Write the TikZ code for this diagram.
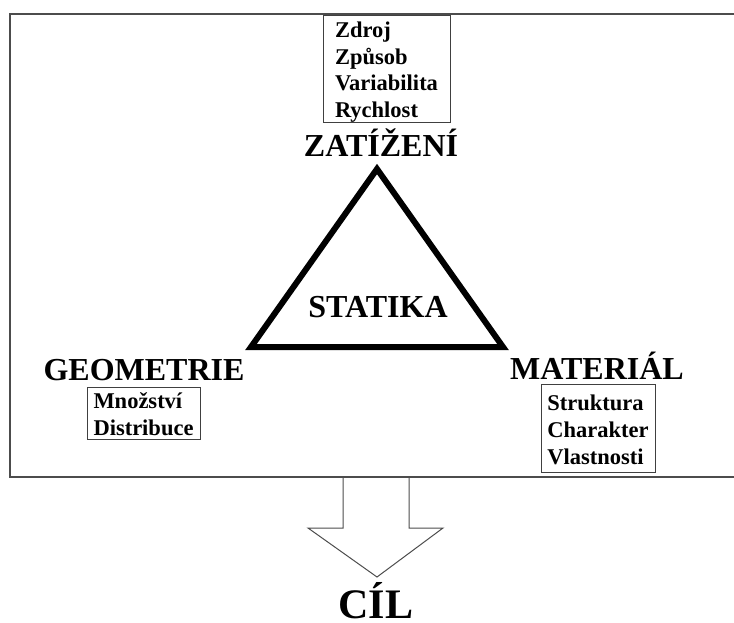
\documentclass[tikz,border=0pt]{standalone}
\usepackage{fontspec}
\setmainfont{Liberation Serif}
\usetikzlibrary{positioning}

\begin{document}
\begin{tikzpicture}[x=1pt,y=-1pt,
title/.style={font=\fontsize{32}{32}\selectfont\bfseries,inner sep=0pt,anchor=base},
listbox/.style={draw=black!75,line width=1pt,align=left,font=\fontsize{22.5}{26.7}\selectfont\bfseries,inner sep=0pt},
frame/.style={draw=black!70,line width=1.3pt},
arrow/.style={draw=black!70,line width=1pt,line join=miter}]
\useasboundingbox (0,0) rectangle (734,623);
\draw[frame] (734,14) -- (10,14) -- (10,477) -- (734,477);
% triangle
\draw[line width=6pt,line join=miter] (377,169) -- (503,347) -- (251,347) -- cycle;
\node[title] (statika) at (378,317) {STATIKA};
\node[title] (zatizeni) at (381,157) {ZATÍŽENÍ};
\node[title] (geometrie) at (144,380) {GEOMETRIE};
\node[title] (material) at (597,379) {MATERIÁL};
\node[listbox,minimum width=127pt,minimum height=107pt] (zdroj) at (386.5,69.5) {\rule{0pt}{21pt}Zdroj\\Způsob\\Variabilita\\Rychlost};
\node[listbox,minimum width=113pt,minimum height=52pt] (mnozstvi) at (143.5,413) {\rule{0pt}{18pt}Množství\\Distribuce};
\node[listbox,minimum width=114pt,minimum height=88pt] (struktura) at (598,428) {\rule{0pt}{19pt}Struktura\\Charakter\\Vlastnosti};
% output arrow
\draw[arrow] (343,477) -- (343,528) -- (308,528) -- (377,577) -- (443,528) -- (409,528) -- (409,477);
\node[title,font=\fontsize{42}{42}\selectfont\bfseries,text depth=0pt] (cil) at (376,618) {CÍL};
\end{tikzpicture}
\end{document}
